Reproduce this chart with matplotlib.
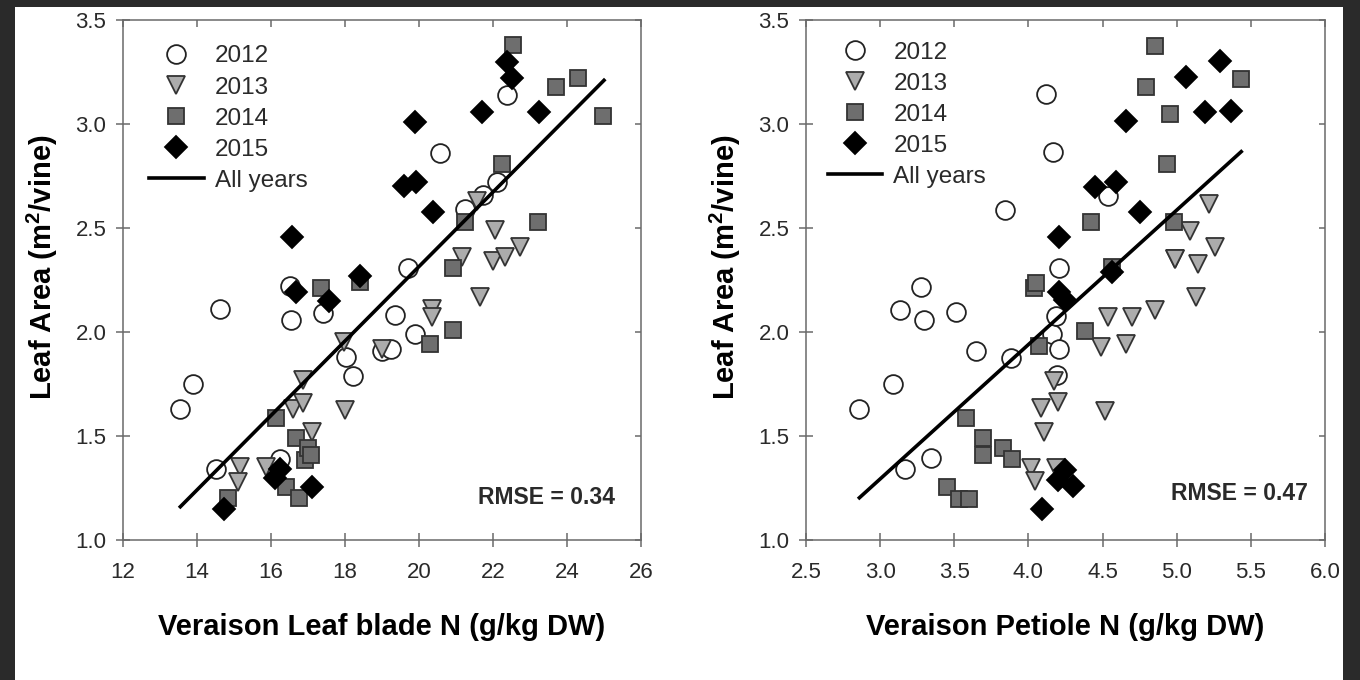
import matplotlib
matplotlib.use("Agg")
import matplotlib.pyplot as plt
from matplotlib.lines import Line2D
from matplotlib.patches import Rectangle

plt.rcParams['font.family'] = ['Liberation Sans', 'DejaVu Sans']

years = ['2012', '2013', '2014', '2015']

# left panel: veraison leaf blade N (g/kg DW) vs leaf area (m2/vine)
blade_x_2012 = [13.55, 13.89, 14.61, 14.52, 16.5, 16.55, 16.25, 17.4, 18.03, 18.22,
                19.0, 19.23, 19.35, 19.89, 19.71, 20.57, 21.24, 21.73, 22.1, 22.37]
blade_y_2012 = [1.63, 1.75, 2.11, 1.34, 2.22, 2.06, 1.39, 2.09, 1.88, 1.79,
                1.91, 1.92, 2.08, 1.99, 2.31, 2.86, 2.59, 2.66, 2.72, 3.14]
blade_x_2013 = [15.15, 15.11, 15.87, 16.59, 16.86, 16.86, 17.12, 17.99, 17.96, 18.99,
                20.34, 20.34, 21.65, 21.15, 22.01, 22.32, 22.05, 22.73, 21.56]
blade_y_2013 = [1.35, 1.28, 1.35, 1.63, 1.66, 1.77, 1.52, 1.625, 1.95, 1.92,
                2.11, 2.07, 2.17, 2.36, 2.34, 2.36, 2.49, 2.41, 2.63]
blade_x_2014 = [14.84, 16.13, 16.4, 16.67, 16.76, 16.91, 17.0, 17.09, 17.36, 18.41,
                20.31, 20.93, 20.93, 21.24, 22.25, 22.55, 23.22, 23.7, 24.31, 24.96]
blade_y_2014 = [1.20, 1.585, 1.256, 1.49, 1.20, 1.385, 1.44, 1.41, 2.21, 2.24,
                1.94, 2.01, 2.31, 2.53, 2.81, 3.38, 2.53, 3.18, 3.22, 3.04]
blade_x_2015 = [14.72, 16.1, 16.25, 17.12, 16.58, 16.68, 17.57, 18.41, 19.59, 19.92,
                19.89, 20.39, 21.69, 22.37, 22.5, 23.25]
blade_y_2015 = [1.15, 1.30, 1.34, 1.256, 2.455, 2.19, 2.15, 2.27, 2.70, 2.72,
                3.01, 2.575, 3.06, 3.30, 3.22, 3.06]
blade_fit_x = [13.55, 25.0]
blade_fit_y = [1.16, 3.21]
blade_rmse = 'RMSE = 0.34'

# right panel: veraison petiole N (g/kg DW) vs leaf area (m2/vine)
pet_x_2012 = [2.86, 3.089, 3.134, 3.17, 3.275, 3.298, 3.343, 3.511, 3.646, 3.842,
              3.882, 4.118, 4.163, 4.159, 4.186, 4.19, 4.208, 4.208, 4.536]
pet_y_2012 = [1.628, 1.749, 2.106, 1.341, 2.218, 2.058, 1.393, 2.098, 1.909, 2.588,
              1.877, 3.144, 2.867, 1.989, 2.077, 1.793, 1.918, 2.31, 2.655]
pet_x_2013 = [4.017, 4.046, 4.085, 4.107, 4.175, 4.186, 4.197, 4.49, 4.514, 4.536,
              4.656, 4.7, 4.851, 4.986, 4.99, 5.088, 5.128, 5.143, 5.218, 5.256]
pet_y_2013 = [1.345, 1.284, 1.633, 1.52, 1.764, 1.348, 1.662, 1.93, 1.62, 2.07,
              1.94, 2.07, 2.106, 2.351, 2.35, 2.487, 2.17, 2.327, 2.615, 2.407]
pet_x_2014 = [3.449, 3.53, 3.597, 3.579, 3.691, 3.691, 3.83, 3.889, 4.04, 4.05,
              4.069, 4.379, 4.424, 4.565, 4.79, 4.851, 4.934, 4.952, 4.981, 5.431]
pet_y_2014 = [1.256, 1.197, 1.197, 1.588, 1.489, 1.41, 1.44, 1.389, 2.21, 2.235,
              1.935, 2.005, 2.527, 2.311, 3.177, 3.377, 2.808, 3.048, 2.527, 3.217]
pet_x_2015 = [4.09, 4.2, 4.246, 4.3, 4.206, 4.246, 4.204, 4.447, 4.565, 4.588,
              4.656, 4.754, 5.064, 5.188, 5.29, 5.368]
pet_y_2015 = [1.149, 1.29, 1.337, 1.26, 2.19, 2.154, 2.455, 2.696, 2.287, 2.72,
              3.016, 2.578, 3.224, 3.056, 3.304, 3.064]
pet_fit_x = [2.86, 5.435]
pet_fit_y = [1.203, 2.867]
pet_rmse = 'RMSE = 0.47'

y_ticks = [1.0, 1.5, 2.0, 2.5, 3.0, 3.5]
blade_ticks = [12, 14, 16, 18, 20, 22, 24, 26]
pet_ticks = [2.5, 3.0, 3.5, 4.0, 4.5, 5.0, 5.5, 6.0]

styles = {
    '2012': dict(marker='o', ms=13.5, mfc='white', mec='#222222'),
    '2013': dict(marker='v', ms=13, mfc='#acacac', mec='#333333'),
    '2014': dict(marker='s', ms=11.5, mfc='#6e6e6e', mec='#333333'),
    '2015': dict(marker='D', ms=11, mfc='black', mec='black'),
}

spine_col = '#6a6a6a'
text_col = '#2a2a2a'

fig = plt.figure(figsize=(13.6, 6.8), dpi=100, facecolor='#2a2a2a')
fig.patches.append(Rectangle((15 / 1360, 0), 1328 / 1360, 673 / 680,
                             transform=fig.transFigure, facecolor='white',
                             edgecolor='none', zorder=-10))


def draw_panel(ax, xs, ys, fit_x, fit_y, xlim, xticks, xfmt, xlabel, rmse,
               rmse_pos, leg_anchor):
    for yr, x, y in zip(years, xs, ys):
        ax.plot(x, y, ls='none', mew=1.3, zorder=3, **styles[yr])
    ax.plot(fit_x, fit_y, color='black', lw=2.6, zorder=4)

    ax.set_xlim(*xlim)
    ax.set_ylim(1.0, 3.5)
    ax.set_xticks(xticks)
    ax.set_xticklabels([xfmt.format(t) for t in xticks])
    ax.set_yticks(y_ticks)
    ax.set_yticklabels(['%.1f' % t for t in y_ticks])
    ax.tick_params(direction='inout', length=10, width=1.1, color=spine_col,
                   labelsize=16, labelcolor=text_col, pad=7)
    ax.tick_params(axis='x', pad=11)
    for sp in ax.spines.values():
        sp.set_color(spine_col)
        sp.set_linewidth(1.1)

    top = ax.secondary_xaxis('top')
    top.set_xticks(xticks)
    top.tick_params(direction='in', length=5, width=1.1, color=spine_col,
                    labeltop=False)
    top.spines['top'].set_visible(False)
    right = ax.secondary_yaxis('right')
    right.set_yticks(y_ticks)
    right.tick_params(direction='in', length=4, width=1.1, color=spine_col,
                      labelright=False)
    right.spines['right'].set_visible(False)

    ax.set_xlabel(xlabel, fontsize=21, fontweight='bold', color='black',
                  va='center')
    ax.xaxis.set_label_coords(0.5, -0.167)
    ax.set_ylabel('Leaf Area (m$^\\mathregular{2}$/vine)', fontsize=21,
                  fontweight='bold', color='black', va='center')
    ax.yaxis.set_label_coords(-0.155, 0.525)

    ax.text(rmse_pos[0], rmse_pos[1], rmse, transform=ax.transAxes,
            ha='right', va='center', fontsize=16.5, fontweight='bold',
            color=text_col)

    handles = [Line2D([], [], ls='none', mew=1.3, **styles[yr]) for yr in years]
    handles.append(Line2D([], [], color='black', lw=2.6))
    ax.legend(handles, years + ['All years'], loc='upper left',
              bbox_to_anchor=leg_anchor, frameon=False, fontsize=17.5,
              handlelength=2.25, handletextpad=0.45, labelspacing=0.37,
              borderpad=0, borderaxespad=0, labelcolor=text_col)


ax1 = fig.add_axes([123 / 1360, 1 - 540 / 680, 518 / 1360, 520 / 680])
ax2 = fig.add_axes([806 / 1360, 1 - 540 / 680, 519 / 1360, 520 / 680])

draw_panel(ax1,
           [blade_x_2012, blade_x_2013, blade_x_2014, blade_x_2015],
           [blade_y_2012, blade_y_2013, blade_y_2014, blade_y_2015],
           blade_fit_x, blade_fit_y, (12, 26), blade_ticks, '{:d}',
           'Veraison Leaf blade N (g/kg DW)', blade_rmse, (0.95, 0.081),
           (0.05, 0.951))
draw_panel(ax2,
           [pet_x_2012, pet_x_2013, pet_x_2014, pet_x_2015],
           [pet_y_2012, pet_y_2013, pet_y_2014, pet_y_2015],
           pet_fit_x, pet_fit_y, (2.5, 6.0), pet_ticks, '{:.1f}',
           'Veraison Petiole N (g/kg DW)', pet_rmse, (0.967, 0.09),
           (0.042, 0.958))

fig.savefig('out.png', dpi=100, facecolor=fig.get_facecolor())
